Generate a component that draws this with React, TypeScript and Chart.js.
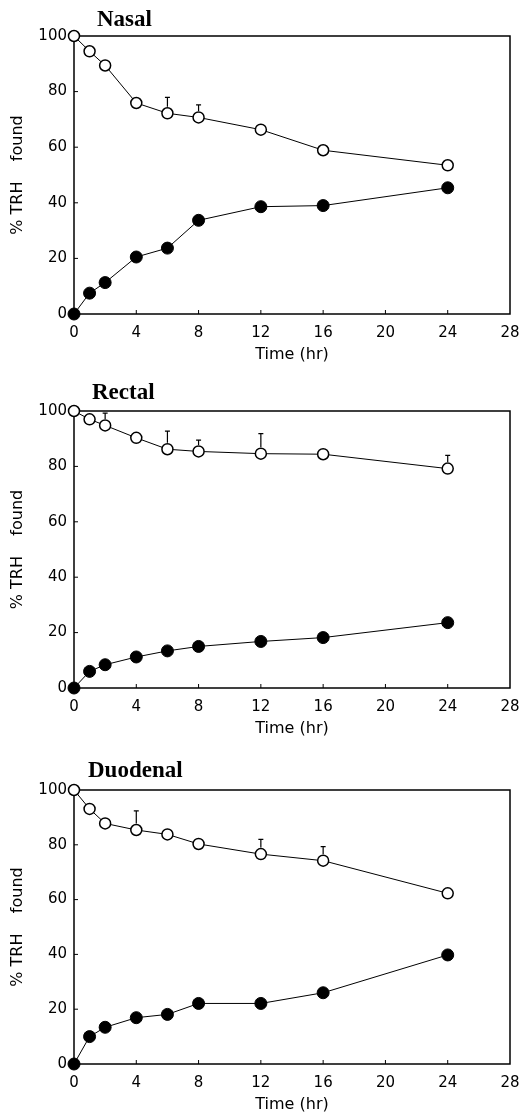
import { useEffect, useRef } from "react";
import { Chart, registerables } from "chart.js";

Chart.register(...registerables);

// ---- data ----
const hours = [0, 1, 2, 4, 6, 8, 12, 16, 24];
const xTickValues = [0, 4, 8, 12, 16, 20, 24, 28];
const yTickValues = [0, 20, 40, 60, 80, 100];

const nasalOpen = [100, 94.5, 89.4, 75.9, 72.2, 70.7, 66.3, 58.9, 53.5];
const nasalOpenErr = [0, 0, 0, 0, 5.7, 4.5, 0, 0, 0];
const nasalFilled = [0, 7.5, 11.3, 20.5, 23.7, 33.7, 38.6, 39, 45.4];

const rectalOpen = [100, 97, 94.8, 90.3, 86.2, 85.4, 84.6, 84.4, 79.2];
const rectalOpenErr = [0, 0, 4.4, 0, 6.5, 4.1, 7.2, 0, 4.8];
const rectalFilled = [0, 6, 8.4, 11.2, 13.4, 15, 16.8, 18.2, 23.6];

const duodenalOpen = [100, 93.1, 87.8, 85.4, 83.8, 80.3, 76.6, 74.2, 62.3];
const duodenalOpenErr = [0, 0, 0, 7, 0, 0, 5.4, 5.1, 0];
const duodenalFilled = [0, 10, 13.4, 16.9, 18.1, 22.1, 22.1, 26, 39.8];

const xTitle = "Time (hr)";
const yTitle = "% TRH    found";

// ---- styling ----
const SANS = "'DejaVu Sans', sans-serif";
const OPEN_R = 5.5;

const framePlugin = {
  id: "frame",
  beforeDatasetsDraw(chart: any, _args: any, opts: any) {
    const { ctx, chartArea: a, scales } = chart;
    ctx.save();
    ctx.strokeStyle = "#000";
    ctx.lineWidth = 1.5;
    ctx.strokeRect(a.left, a.top, a.right - a.left, a.bottom - a.top);
    ctx.lineWidth = 1;
    ctx.beginPath();
    for (const v of xTickValues) {
      if (v === 0 || v === 28) continue;
      const px = scales.x.getPixelForValue(v);
      ctx.moveTo(px, a.bottom);
      ctx.lineTo(px, a.bottom - 4);
    }
    for (const v of yTickValues) {
      if (v === 0 || v === 100) continue;
      const py = scales.y.getPixelForValue(v);
      ctx.moveTo(a.left, py);
      ctx.lineTo(a.left + 4, py);
    }
    ctx.stroke();
    // title
    ctx.fillStyle = "#000";
    ctx.font = "bold 23px 'Liberation Serif', serif";
    ctx.textAlign = "left";
    ctx.textBaseline = "alphabetic";
    ctx.fillText(opts.title, a.left + opts.dx, a.top + opts.dy);
    ctx.restore();
  },
  afterDatasetsDraw(chart: any, _args: any, opts: any) {
    const { ctx, scales } = chart;
    const errs: number[] = opts.errors || [];
    const vals: number[] = opts.values || [];
    ctx.save();
    ctx.strokeStyle = "#000";
    ctx.lineWidth = 1.2;
    ctx.beginPath();
    errs.forEach((e, i) => {
      if (!e) return;
      const px = scales.x.getPixelForValue(hours[i]);
      const py = scales.y.getPixelForValue(vals[i]);
      const pt = scales.y.getPixelForValue(vals[i] + e);
      const start = py - OPEN_R - 1;
      if (pt < start) {
        ctx.moveTo(px, start);
        ctx.lineTo(px, pt);
      }
      ctx.moveTo(px - 2.5, pt);
      ctx.lineTo(px + 2.5, pt);
    });
    ctx.stroke();
    ctx.restore();
  },
};

type PanelProps = {
  top: number;
  height: number;
  title: string;
  dx: number;
  dy: number;
  open: number[];
  openErr: number[];
  filled: number[];
};

function Panel({ top, height, title, dx, dy, open, openErr, filled }: PanelProps) {
  const ref = useRef<HTMLCanvasElement>(null);
  useEffect(() => {
    const font = { family: SANS, size: 15 };
    const tfont = { family: SANS, size: 16 };
    const chart = new Chart(ref.current!, {
      type: "line",
      data: {
        datasets: [
          {
            data: hours.map((h, i) => ({ x: h, y: filled[i] })),
            borderColor: "#000",
            borderWidth: 1,
            pointRadius: 6,
            pointBackgroundColor: "#000",
            pointBorderColor: "#000",
            pointBorderWidth: 1,
            clip: false as any,
          },
          {
            data: hours.map((h, i) => ({ x: h, y: open[i] })),
            borderColor: "#000",
            borderWidth: 1,
            pointRadius: OPEN_R,
            pointBackgroundColor: "#fff",
            pointBorderColor: "#000",
            pointBorderWidth: 1.5,
            clip: false as any,
          },
        ],
      },
      options: {
        responsive: false,
        animation: false,
        events: [],
        layout: { padding: { top: 36, right: 21, left: 0, bottom: 0 } },
        plugins: {
          legend: { display: false },
          tooltip: { enabled: false },
          frame: { title, dx, dy, errors: openErr, values: open },
        } as any,
        scales: {
          x: {
            type: "linear",
            min: 0,
            max: 28,
            afterBuildTicks: (s: any) => {
              s.ticks = xTickValues.map((v) => ({ value: v }));
            },
            afterFit: (s: any) => {
              s.height = 50;
            },
            grid: { display: false, drawTicks: false },
            border: { display: false },
            ticks: { font, color: "#000", padding: 10, maxRotation: 0, autoSkip: false },
            title: { display: true, text: xTitle, font: tfont, color: "#000", padding: { top: 0, bottom: 0 } },
          },
          y: {
            type: "linear",
            min: 0,
            max: 100,
            afterBuildTicks: (s: any) => {
              s.ticks = yTickValues.map((v) => ({ value: v }));
            },
            afterFit: (s: any) => {
              s.width = 74;
            },
            grid: { display: false, drawTicks: false },
            border: { display: false },
            ticks: { font, color: "#000", padding: 7, autoSkip: false },
            title: { display: true, text: yTitle, font: tfont, color: "#000", padding: { top: 8, bottom: 0 } },
          },
        },
      },
      plugins: [framePlugin],
    });
    return () => chart.destroy();
  }, []);
  return (
    <canvas
      ref={ref}
      width={531}
      height={height}
      style={{ position: "absolute", left: 0, top, display: "block" }}
    />
  );
}

export default function App() {
  return (
    <div
      style={{
        position: "absolute",
        left: 0,
        top: 0,
        width: 531,
        height: 1115,
        overflow: "hidden",
        background: "#fff",
      }}
    >
      <Panel top={0} height={364} title="Nasal" dx={23} dy={-10} open={nasalOpen} openErr={nasalOpenErr} filled={nasalFilled} />
      <Panel top={375} height={363} title="Rectal" dx={18} dy={-12} open={rectalOpen} openErr={rectalOpenErr} filled={rectalFilled} />
      <Panel top={754} height={360} title="Duodenal" dx={14} dy={-13} open={duodenalOpen} openErr={duodenalOpenErr} filled={duodenalFilled} />
    </div>
  );
}
